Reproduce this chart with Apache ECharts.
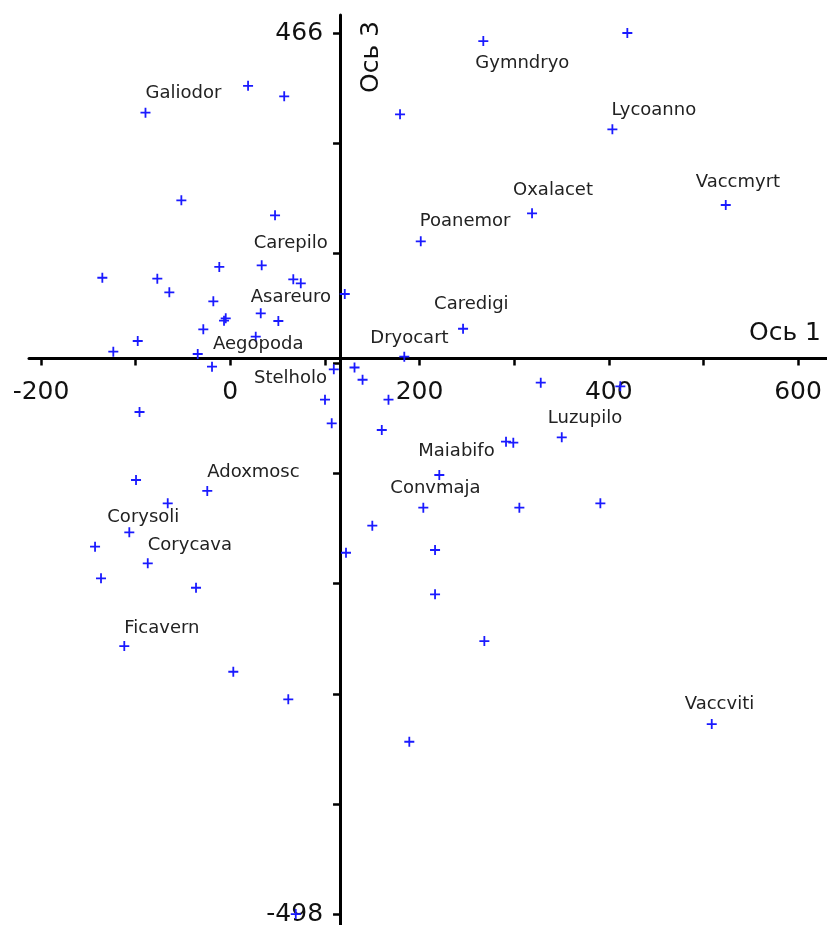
<!DOCTYPE html>
<html>
<head>
<meta charset="utf-8">
<script src="https://cdn.jsdelivr.net/npm/echarts@6/dist/echarts.min.js"></script>
<style>
  html, body { margin: 0; padding: 0; background: #ffffff; }
  #chart { width: 827px; height: 925px; }
</style>
</head>
<body>
<div id="chart"></div>
<script>
// Ordination scores of the species (axis 1 vs axis 3)
const axis1Scores = [
  267.4, 419.6, 179.4, 403.8, 523.6, 318.9, 201.3, 121.0, 246.0, 183.9,
  18.8, 57.0, -89.6, -51.7, 47.3, 33.2, -11.6, -135.2, -77.1, 66.6,
  74.5, -64.4, -17.9, 32.2, -4.8, -6.6, 50.8, -28.5, 26.9, -97.8,
  -123.6, -34.4, -19.3, 109.4, 131.3, 139.8, 100.1, 167.2, 107.2, -95.9,
  160.1, 328.1, 412.2, 291.4, 299.1, 350.3, 220.9, 204.0, 305.5, 391.1,
  150.1, 122.3, 216.4, 216.4, 268.5, 189.2, 508.8, 69.2, -99.6, -24.3,
  -66.1, -106.7, -142.9, -87.2, -136.6, -36.2, -112.0, 3.2, 61.3
];
const axis3Scores = [
  457.2, 466.0, 377.0, 360.6, 277.8, 268.7, 238.1, 180.4, 142.4, 111.8,
  408.2, 396.7, 378.8, 282.9, 266.5, 211.8, 210.0, 198.2, 197.2, 196.5,
  192.1, 182.3, 172.4, 159.3, 153.8, 151.2, 150.9, 141.8, 133.7, 129.0,
  117.3, 114.8, 100.9, 98.0, 100.0, 86.6, 64.8, 64.8, 38.9, 51.3,
  31.6, 83.4, 79.4, 18.8, 17.7, 23.6, -17.6, -53.4, -53.4, -48.6,
  -73.1, -102.7, -99.7, -148.2, -199.3, -309.5, -290.1, -498.0, -23.1, -35.1,
  -48.6, -80.3, -96.1, -114.3, -130.7, -141.0, -204.8, -232.9, -263.1
];
const speciesNames = [
  'Gymndryo', '', '', 'Lycoanno', 'Vaccmyrt', 'Oxalacet', 'Poanemor', '', 'Caredigi', 'Dryocart',
  '', '', 'Galiodor', '', '', 'Carepilo', '', '', '', '',
  '', '', '', 'Asareuro', '', '', '', '', '', '',
  '', '', 'Aegopoda', '', '', '', 'Stelholo', '', '', '',
  '', '', '', '', '', 'Luzupilo', 'Maiabifo', 'Convmaja', '', '',
  '', '', '', '', '', '', 'Vaccviti', '', '', 'Adoxmosc',
  '', 'Corysoli', '', 'Corycava', '', '', 'Ficavern', '', ''
];

const axis1Ticks = [-200, -100, 0, 100, 200, 300, 400, 500, 600];
const axis1TickLabels = [-200, 0, 200, 400, 600];
const axis3Ticks = [466, 345.5, 225, 104.5, -16, -136.5, -257, -377.5, -498];
const axis3TickLabels = [466, -498];
const axis1Title = 'Ось 1';
const axis3Title = 'Ось 3';

// Point where the two axis lines cross (in score units)
const crossAt = { axis1: 116.0, axis3: 109.8 };

// ---- layout & styling ----
const FONT = 'DejaVu Sans';
const GRID = { left: 29, top: 15, width: 798, height: 910 };
const X_RANGE = [-212.7, 630.6];
const Y_RANGE = [-510.0, 485.7];
const MARK_SIZE = 10;

// name label placement relative to its marker centre: [dx to left edge, dy to text middle]
const labelOffsets = {
  Gymndryo: [-8, 22], Lycoanno: [-1, -19], Vaccmyrt: [-30, -23], Oxalacet: [-19, -23],
  Poanemor: [-1, -20], Caredigi: [-29, -24], Dryocart: [-34, -18], Galiodor: [0, -19],
  Carepilo: [-8, -22], Asareuro: [-10, -16], Aegopoda: [1, -22], Stelholo: [-71, -21],
  Adoxmosc: [0, -19], Corysoli: [-22, -15], Corycava: [0, -18], Ficavern: [0, -18],
  Maiabifo: [-21, -24], Convmaja: [-33, -19], Luzupilo: [-14, -19], Vaccviti: [-27, -20]
};

// shift each axis line from the grid edge to the crossing point
const xAxisOffset = -((crossAt.axis3 - Y_RANGE[0]) / (Y_RANGE[1] - Y_RANGE[0])) * GRID.height;
const yAxisOffset = -((crossAt.axis1 - X_RANGE[0]) / (X_RANGE[1] - X_RANGE[0])) * GRID.width;

const points = axis1Scores.map((x, i) => {
  const name = speciesNames[i];
  const item = { value: [x, axis3Scores[i]], name: name };
  if (name) {
    const off = labelOffsets[name] || [0, -18];
    item.label = {
      show: true,
      formatter: name,
      // position is measured from the top-left corner of the marker box
      position: [MARK_SIZE / 2 + off[0], MARK_SIZE / 2 + off[1]],
      align: 'left',
      verticalAlign: 'middle'
    };
  }
  return item;
});

const chart = echarts.init(document.getElementById('chart'), null, { renderer: 'canvas' });

chart.setOption({
  animation: false,
  backgroundColor: '#ffffff',
  grid: Object.assign({ containLabel: false, outerBoundsMode: 'none' }, GRID),
  xAxis: {
    type: 'value',
    min: X_RANGE[0],
    max: X_RANGE[1],
    position: 'bottom',
    offset: xAxisOffset,
    axisLine: { show: true, onZero: false, lineStyle: { color: '#000', width: 3 } },
    axisTick: { show: true, customValues: axis1Ticks, length: 7, lineStyle: { color: '#000', width: 2.5 } },
    axisLabel: {
      show: true,
      customValues: axis1TickLabels,
      margin: 21,
      color: '#111',
      fontFamily: FONT,
      fontSize: 25
    },
    splitLine: { show: false }
  },
  yAxis: {
    type: 'value',
    min: Y_RANGE[0],
    max: Y_RANGE[1],
    position: 'left',
    offset: yAxisOffset,
    axisLine: { show: true, onZero: false, lineStyle: { color: '#000', width: 3 } },
    axisTick: { show: true, customValues: axis3Ticks, length: 7, lineStyle: { color: '#000', width: 2.5 } },
    axisLabel: {
      show: true,
      customValues: axis3TickLabels,
      margin: 17,
      color: '#111',
      fontFamily: FONT,
      fontSize: 25
    },
    splitLine: { show: false }
  },
  graphic: [
    {
      type: 'text', right: 6, top: 321, z: 10,
      style: { text: axis1Title, font: '25px "' + FONT + '"', fill: '#111' }
    },
    {
      type: 'text', x: 371, y: 57, rotation: Math.PI / 2, z: 10,
      style: { text: axis3Title, font: '25px "' + FONT + '"', fill: '#111', align: 'center', verticalAlign: 'middle' }
    }
  ],
  series: [{
    type: 'scatter',
    silent: true,
    symbol: 'path://M4.1,0H5.9V4.1H10V5.9H5.9V10H4.1V5.9H0V4.1H4.1Z',
    symbolSize: MARK_SIZE,
    itemStyle: { color: '#1a1aff', opacity: 1 },
    label: { color: '#222', fontFamily: FONT, fontSize: 18 },
    data: points
  }]
});
</script>
</body>
</html>
